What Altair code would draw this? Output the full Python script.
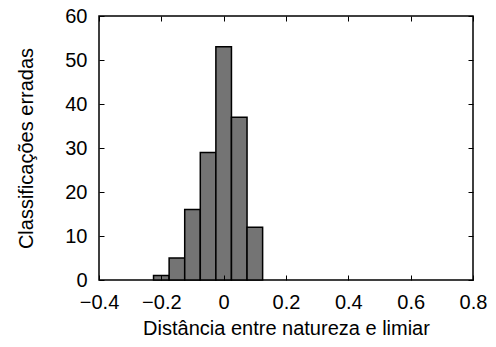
import altair as alt
import pandas as pd

# histogram bins (centers) and counts
bin_centers = [-0.2, -0.15, -0.1, -0.05, 0.0, 0.05, 0.1]
counts = [1, 5, 16, 29, 53, 37, 12]
bin_width = 0.05

x_ticks = [-0.4, -0.2, 0.0, 0.2, 0.4, 0.6, 0.8]
y_ticks = [0, 10, 20, 30, 40, 50, 60]

df = pd.DataFrame({"center": bin_centers, "count": counts})

FONT = "Liberation Sans"
FS = 20
xs = alt.Scale(domain=[-0.4, 0.8], nice=False)
ys = alt.Scale(domain=[0, 60], nice=False)

base = alt.Chart(df).transform_calculate(
    x0=f"datum.center - {bin_width/2}",
    x1=f"datum.center + {bin_width/2}",
)

bars = base.mark_bar(fill="#747474", stroke="black", strokeWidth=1.5).encode(
    x=alt.X("x0:Q", scale=xs, axis=alt.Axis(
        values=x_ticks, orient="bottom", offset=-5, tickSize=5, tickColor="black",
        tickWidth=1, domain=False, grid=False, zindex=1, labelFlush=False,
        labelFontSize=FS, labelFont=FONT, labelColor="black", labelPadding=12,
        labelExpr="replace(format(datum.value, '.1~f'), '-', '−')",
        title="Distância entre natureza e limiar", titleFontSize=FS, titleFont=FONT,
        titleFontWeight="normal", titleColor="black", titlePadding=6)),
    x2="x1:Q",
    y=alt.Y("count:Q", scale=ys, axis=alt.Axis(
        values=y_ticks, orient="left", offset=-5, tickSize=5, tickColor="black",
        tickWidth=1, domain=False, grid=False, zindex=1, labelFlush=False,
        labelFontSize=FS, labelFont=FONT, labelColor="black", labelPadding=12,
        title="Classificações erradas", titleFontSize=FS, titleFont=FONT,
        titleFontWeight="normal", titleColor="black", titlePadding=28)),
    y2=alt.datum(0),
)

ticks_tr = base.mark_bar(opacity=0).encode(
    x=alt.X("x0:Q", scale=xs, axis=alt.Axis(
        values=x_ticks, orient="top", labels=False, domain=False, grid=False,
        tickSize=5, tickColor="black", tickWidth=1, offset=-5, title=None, zindex=1)),
    x2="x1:Q",
    y=alt.Y("count:Q", scale=ys, axis=alt.Axis(
        values=y_ticks, orient="right", labels=False, domain=False, grid=False,
        tickSize=5, tickColor="black", tickWidth=1, offset=-5, title=None, zindex=1)),
    y2=alt.datum(0),
)

chart = alt.layer(bars, ticks_tr).resolve_axis(
    x="independent", y="independent"
).properties(
    width=374, height=264,
    autosize=alt.AutoSizeParams(type="none"),
    padding={"left": 99, "top": 16, "right": 23, "bottom": 67},
    background="white",
).configure_view(stroke="black", strokeWidth=1.5)

chart.save("out.html", embed_options={"renderer": "svg", "actions": False})
